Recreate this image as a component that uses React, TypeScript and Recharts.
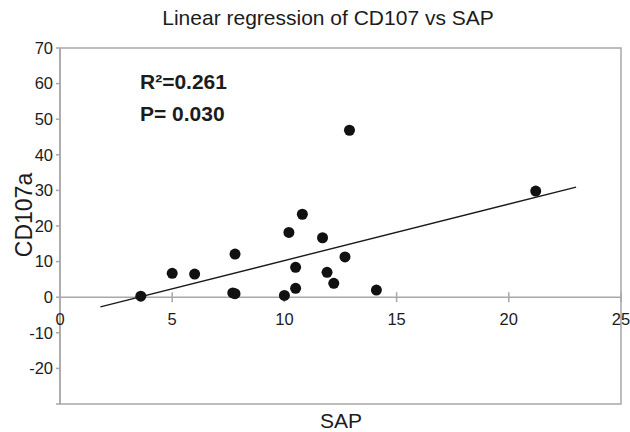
import React from 'react';
import { ScatterChart, Scatter, XAxis, YAxis, ReferenceLine, ReferenceDot, ReferenceArea } from 'recharts';

const sapValues = [3.6, 5.0, 6.0, 7.7, 7.8, 7.8, 10.0, 10.2, 10.8, 10.5, 10.5, 12.9, 11.7, 12.7, 11.9, 12.2, 14.1, 21.2];
const cd107Values = [0.3, 6.7, 6.5, 1.2, 1.0, 12.1, 0.5, 18.2, 23.3, 8.4, 2.5, 46.9, 16.7, 11.3, 7.0, 3.9, 2.0, 29.8];

const fitX = [1.8, 23.0];
const fitY = [-2.7, 30.9];

const xTicks = [0, 5, 10, 15, 20, 25];
const yTicks = [-30, -20, -10, 0, 10, 20, 30, 40, 50, 60, 70];

const title = 'Linear regression of CD107 vs SAP';
const xLabel = 'SAP';
const yLabel = 'CD107a';
const statR2 = 'R²=0.261';
const statP = 'P= 0.030';

const points = sapValues.map((x, i) => ({ x, y: cd107Values[i] }));
const fitData = fitX.map((x, i) => ({ x, y: fitY[i] }));

const FONT = '"Liberation Sans", Arial, Helvetica, sans-serif';
const AXIS = '#a8a8a8';
const TEXT = '#1c1c1c';

export default function App() {
  return (
    <div style={{ position: 'absolute', left: 0, top: 0, width: 630, height: 432, background: '#fff' }}>
      <ScatterChart width={630} height={432} margin={{ top: 48, right: 9, bottom: 28, left: 0 }}>
        <XAxis type="number" dataKey="x" domain={[0, 25]} ticks={xTicks} hide />
        <YAxis
          type="number"
          dataKey="y"
          domain={[-30, 70]}
          ticks={yTicks}
          interval={0}
          width={60}
          tickSize={4}
          tickMargin={3}
          axisLine={{ stroke: AXIS, strokeWidth: 1.5 }}
          tickLine={{ stroke: AXIS, strokeWidth: 1.5 }}
          tick={{ fill: TEXT, fontSize: 16.5, fontFamily: FONT }}
          tickFormatter={(v: number) => (v === -30 ? '' : String(v))}
        />
        <ReferenceArea
          x1={0}
          x2={25}
          y1={-30}
          y2={70}
          fill="none"
          fillOpacity={0}
          stroke={AXIS}
          strokeWidth={1.5}
          ifOverflow="visible"
        />
        <ReferenceLine y={0} stroke={AXIS} strokeWidth={1.5} ifOverflow="visible" />
        {xTicks.map((v) => (
          <ReferenceDot
            key={v}
            x={v}
            y={0}
            ifOverflow="visible"
            shape={(p: any) => (
              <g>
                {v !== 0 && (
                  <line x1={p.cx} x2={p.cx} y1={p.cy - 5} y2={p.cy + 5} stroke={AXIS} strokeWidth={1.5} />
                )}
                <text
                  x={p.cx}
                  y={p.cy + 28}
                  textAnchor="middle"
                  fill={TEXT}
                  fontSize={16.5}
                  fontFamily={FONT}
                >
                  {String(v)}
                </text>
              </g>
            )}
          />
        ))}
        <Scatter
          data={fitData}
          isAnimationActive={false}
          line={{ stroke: '#1a1a1a', strokeWidth: 1.4 }}
          shape={() => <g />}
          legendType="none"
        />
        <Scatter
          data={points}
          isAnimationActive={false}
          shape={(p: any) => <circle cx={p.cx} cy={p.cy} r={5.5} fill="#111" />}
        />
      </ScatterChart>
      <svg
        width={630}
        height={432}
        style={{ position: 'absolute', left: 0, top: 0, pointerEvents: 'none' }}
      >
        <text x={328} y={25} textAnchor="middle" fill={TEXT} fontSize={21} fontFamily={FONT}>
          {title}
        </text>
        <text x={140} y={89} fill={TEXT} fontSize={21} fontWeight="bold" fontFamily={FONT}>
          {statR2}
        </text>
        <text x={140} y={121} fill={TEXT} fontSize={21} fontWeight="bold" fontFamily={FONT}>
          {statP}
        </text>
        <text x={341} y={428} textAnchor="middle" fill={TEXT} fontSize={21} fontFamily={FONT}>
          {xLabel}
        </text>
        <text
          x={32}
          y={215}
          textAnchor="middle"
          fill={TEXT}
          fontSize={23}
          fontFamily={FONT}
          transform="rotate(-90 32 215)"
        >
          {yLabel}
        </text>
      </svg>
    </div>
  );
}
